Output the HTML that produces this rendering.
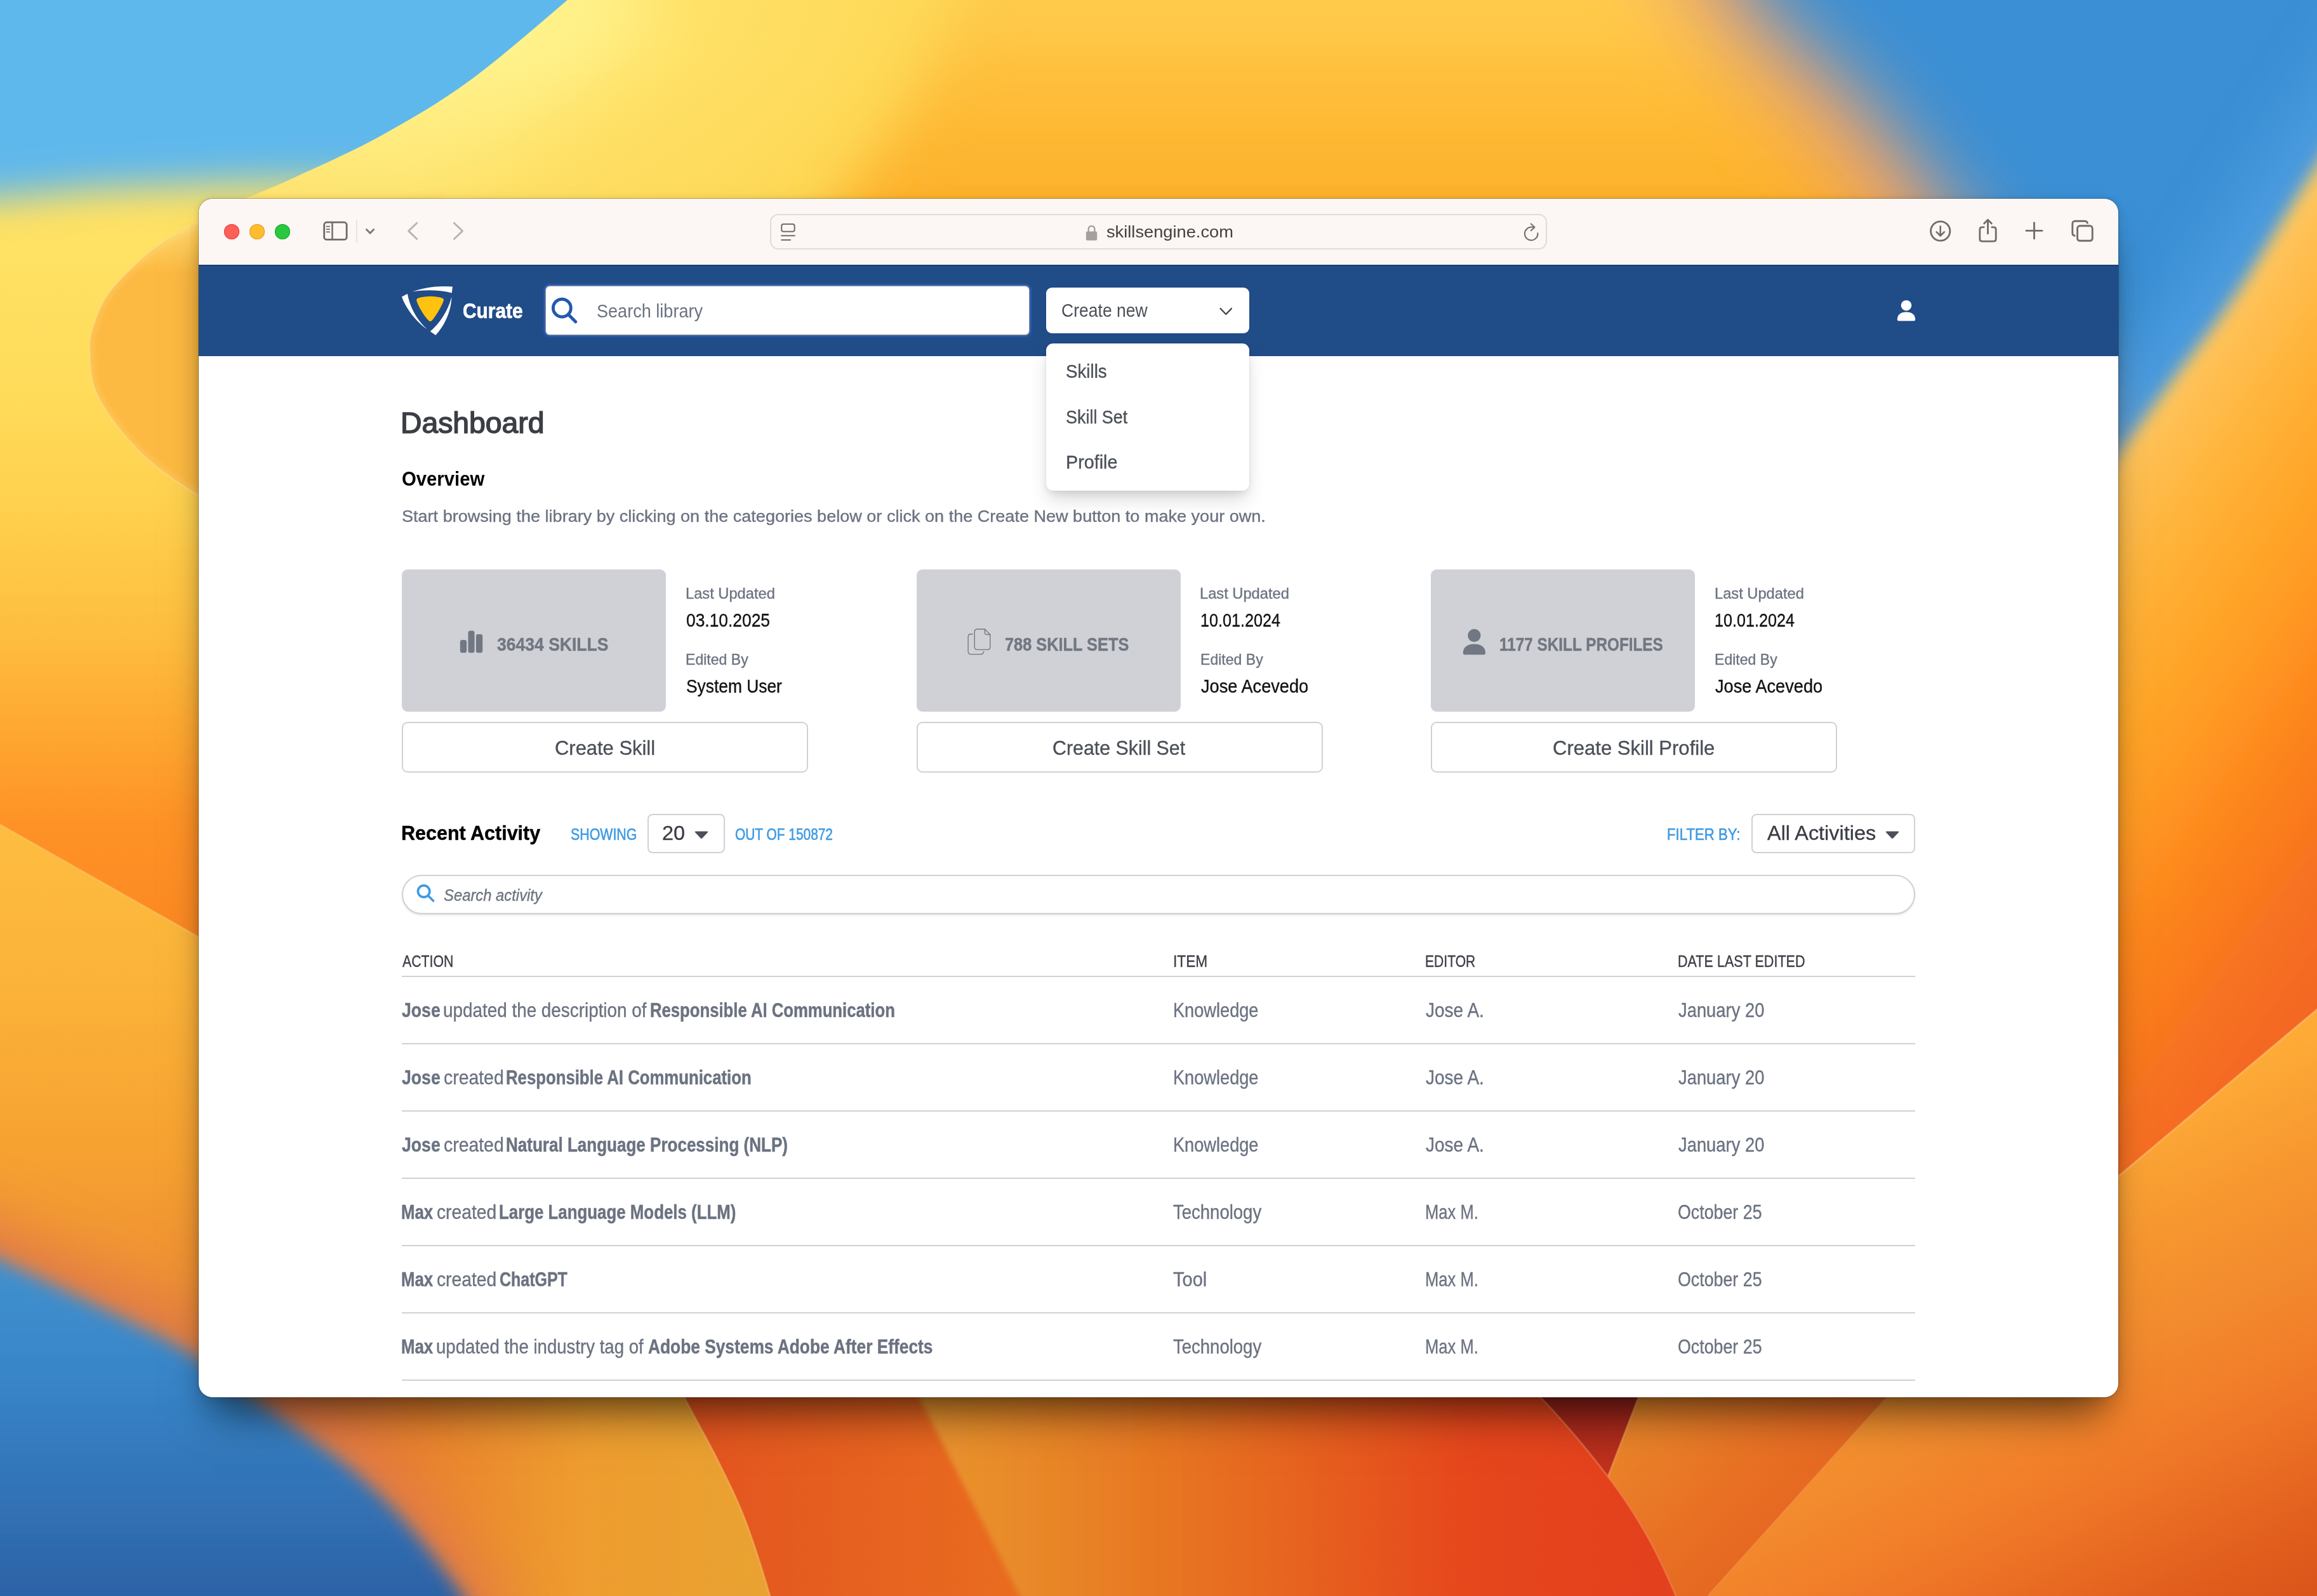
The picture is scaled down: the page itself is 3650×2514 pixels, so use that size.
<!DOCTYPE html><html lang="en"><head><meta charset="utf-8"><title>Curate – Dashboard</title><style>
*{box-sizing:border-box}
html,body{margin:0;padding:0}
body{width:3650px;height:2514px;position:relative;overflow:hidden;background:#f5a030;font-family:"Liberation Sans",sans-serif}
.wall{position:absolute;left:0;top:0;display:block}
.shadow{position:absolute;left:313px;top:313px;width:3024px;height:1888px;border-radius:22px;box-shadow:0 0 0 1px rgba(0,0,0,.24),0 50px 64px -24px rgba(0,0,0,.52),0 18px 36px -10px rgba(0,0,0,.16),0 0 12px rgba(0,0,0,.10)}
.win{position:absolute;left:0;top:0;width:3650px;height:2514px;clip-path:inset(313px 313px 313px 313px round 22px)}
.a{position:absolute}
.t{position:absolute;white-space:pre;line-height:1;transform-origin:0 0}
.tb{left:313px;top:313px;width:3024px;height:104px;background:#fcf7f4}
.nav{left:313px;top:417px;width:3024px;height:144px;background:#204c88;border-top:2px solid #1a3f73}
.page{left:313px;top:561px;width:3024px;height:1640px;background:#fff}
.dot{width:24px;height:24px;border-radius:50%;top:353px}
.url{left:1213px;top:337px;width:1224px;height:56px;border:2px solid #e0dbd8;border-radius:13px;background:#fcf7f4}
.sbox{left:860px;top:451px;width:761px;height:76px;background:#fff;border-radius:6px;box-shadow:0 0 0 1.5px #7d8aa3,0 0 0 4.5px #2557a6}
.cnew{left:1648px;top:453px;width:320px;height:72px;background:#fff;border-radius:9px}
.menu{left:1648px;top:541px;width:320px;height:232px;background:#fff;border-radius:11px;box-shadow:0 16px 30px -4px rgba(0,0,0,.16),0 6px 12px -2px rgba(0,0,0,.08),0 0 0 1px rgba(0,0,0,.03)}
.card{top:897px;width:415.5px;height:223.5px;background:#d0d1d6;border-radius:9px}
.btn{top:1137px;width:640px;height:80px;border:2px solid #cfd1d5;border-radius:9px;background:#fff}
.sel{top:1281.5px;height:62.5px;border:2px solid #cfd1d5;border-radius:8px;background:#fff}
.pill{left:633px;top:1377.5px;width:2384px;height:62px;border:2px solid #cfd1d5;border-radius:31px;background:#fff;box-shadow:0 2px 3px rgba(0,0,0,.10)}
.hl{left:633px;width:2384px;height:2px;background:#cfd1d5}
.med{-webkit-text-stroke:.6px currentColor}
.hd{-webkit-text-stroke:.85px currentColor}
.rg{-webkit-text-stroke:.35px currentColor}
.bd{-webkit-text-stroke:.45px currentColor}
</style></head><body>
<svg class="wall" width="3650" height="2514" viewBox="0 0 3650 2514">
<defs>
  <filter id="b4" x="-10%" y="-10%" width="120%" height="120%"><feGaussianBlur stdDeviation="4"/></filter>
  <filter id="b10" x="-20%" y="-20%" width="140%" height="140%"><feGaussianBlur stdDeviation="14"/></filter>
  <filter id="b14" x="-20%" y="-20%" width="140%" height="140%"><feGaussianBlur stdDeviation="13"/></filter>
  <filter id="b18" x="-20%" y="-20%" width="140%" height="140%"><feGaussianBlur stdDeviation="18"/></filter>
  <filter id="b25" x="-20%" y="-20%" width="140%" height="140%"><feGaussianBlur stdDeviation="25"/></filter>
  <filter id="b30" x="-20%" y="-20%" width="140%" height="140%"><feGaussianBlur stdDeviation="30"/></filter>
  <filter id="b45" x="-30%" y="-30%" width="160%" height="160%"><feGaussianBlur stdDeviation="45"/></filter>
  <filter id="b60" x="-40%" y="-40%" width="180%" height="180%"><feGaussianBlur stdDeviation="62"/></filter>
  <linearGradient id="gLeft" gradientUnits="userSpaceOnUse" x1="0" y1="0" x2="0" y2="2514">
    <stop offset="0" stop-color="#ffe166"/>
    <stop offset=".16" stop-color="#ffe163"/>
    <stop offset=".24" stop-color="#ffdc5b"/>
    <stop offset=".32" stop-color="#ffd04d"/>
    <stop offset=".40" stop-color="#febd3e"/>
    <stop offset=".46" stop-color="#fea730"/>
    <stop offset=".515" stop-color="#fe9226"/>
    <stop offset=".60" stop-color="#fb8722"/>
    <stop offset="1" stop-color="#e8701f"/>
  </linearGradient>
  <linearGradient id="gTop" gradientUnits="userSpaceOnUse" x1="560" y1="60" x2="1500" y2="400">
    <stop offset="0" stop-color="#fff08a"/>
    <stop offset=".25" stop-color="#ffea7a"/>
    <stop offset=".5" stop-color="#ffe167"/>
    <stop offset=".8" stop-color="#fed958"/>
    <stop offset="1" stop-color="#fdd150"/>
  </linearGradient>
  <linearGradient id="gBlob" gradientUnits="userSpaceOnUse" x1="0" y1="0" x2="0" y2="320">
    <stop offset="0" stop-color="#ffcc4e"/>
    <stop offset=".45" stop-color="#febd38"/>
    <stop offset="1" stop-color="#fdb02a"/>
  </linearGradient>
  <linearGradient id="gPetalFade" gradientUnits="userSpaceOnUse" x1="0" y1="300" x2="0" y2="430">
    <stop offset="0" stop-color="#fdba42" stop-opacity="0"/>
    <stop offset="1" stop-color="#fdba42" stop-opacity="1"/>
  </linearGradient>
  <linearGradient id="gRight" gradientUnits="userSpaceOnUse" x1="3490" y1="490" x2="4299" y2="1078">
    <stop offset="0" stop-color="#ffc860"/>
    <stop offset=".06" stop-color="#ffbe50"/>
    <stop offset=".156" stop-color="#ffb339"/>
    <stop offset=".29" stop-color="#ffa427"/>
    <stop offset=".367" stop-color="#ff9a24"/>
    <stop offset=".485" stop-color="#fd861d"/>
    <stop offset=".64" stop-color="#f77220"/>
    <stop offset=".8" stop-color="#f26422"/>
    <stop offset="1" stop-color="#ee5c20"/>
  </linearGradient>
  <linearGradient id="gRightLow" gradientUnits="userSpaceOnUse" x1="3300" y1="1800" x2="3652" y2="2520">
    <stop offset="0" stop-color="#fdaa37"/>
    <stop offset=".21" stop-color="#f7972f"/>
    <stop offset=".40" stop-color="#f28a2e"/>
    <stop offset=".52" stop-color="#f2802a"/>
    <stop offset=".66" stop-color="#ed7326"/>
    <stop offset=".88" stop-color="#e05c1c"/>
    <stop offset="1" stop-color="#d9541a"/>
  </linearGradient>
  <linearGradient id="gBlueBL" gradientUnits="userSpaceOnUse" x1="0" y1="1960" x2="0" y2="2514">
    <stop offset="0" stop-color="#4292d0"/>
    <stop offset=".4" stop-color="#3784c7"/>
    <stop offset="1" stop-color="#2c62a6"/>
  </linearGradient>
  <linearGradient id="gLL" gradientUnits="userSpaceOnUse" x1="0" y1="1300" x2="0" y2="2100">
    <stop offset="0" stop-color="#fdbd40"/>
    <stop offset=".35" stop-color="#fbb138"/>
    <stop offset=".65" stop-color="#f6a131"/>
    <stop offset="1" stop-color="#ec8a34"/>
  </linearGradient>
  <linearGradient id="gBand1" gradientUnits="userSpaceOnUse" x1="420" y1="0" x2="1200" y2="0">
    <stop offset="0" stop-color="#e2723c"/>
    <stop offset=".3" stop-color="#ea822e"/>
    <stop offset=".65" stop-color="#ee9d2f"/>
    <stop offset="1" stop-color="#e9a231"/>
  </linearGradient>
  <linearGradient id="gBand2" gradientUnits="userSpaceOnUse" x1="1100" y1="0" x2="1600" y2="0">
    <stop offset="0" stop-color="#e3551f"/>
    <stop offset="1" stop-color="#e96c20"/>
  </linearGradient>
  <linearGradient id="gBand3" gradientUnits="userSpaceOnUse" x1="1450" y1="0" x2="2600" y2="0">
    <stop offset="0" stop-color="#e9952f"/>
    <stop offset=".2" stop-color="#e88427"/>
    <stop offset=".45" stop-color="#e76a20"/>
    <stop offset=".75" stop-color="#e6471c"/>
    <stop offset="1" stop-color="#e3401d"/>
  </linearGradient>
  <linearGradient id="gDark" gradientUnits="userSpaceOnUse" x1="0" y1="2180" x2="0" y2="2340">
    <stop offset="0" stop-color="#8f201a"/><stop offset="1" stop-color="#cc351e"/>
  </linearGradient>
  <linearGradient id="gPet2" gradientUnits="userSpaceOnUse" x1="2560" y1="2200" x2="2850" y2="2514">
    <stop offset="0" stop-color="#eb8a2b"/>
    <stop offset=".5" stop-color="#e87024"/>
    <stop offset="1" stop-color="#e4601e"/>
  </linearGradient>
  <linearGradient id="gTopShade" gradientUnits="userSpaceOnUse" x1="0" y1="90" x2="0" y2="340">
    <stop offset="0" stop-color="#fdd552" stop-opacity="0"/>
    <stop offset="1" stop-color="#fdd552" stop-opacity=".5"/>
  </linearGradient>
  <clipPath id="cA"><path d="M960.0,-60.0 C949.0,-50.0 930.7,-31.2 894.0,0.0 C857.3,31.2 789.0,91.3 740.0,127.0 C691.0,162.7 646.5,188.3 600.0,214.0 C553.5,239.7 495.5,264.9 461.0,281.0 C426.5,297.1 417.7,299.2 393.0,310.5 C368.3,321.8 335.5,337.4 313.0,349.0 C290.5,360.6 274.7,368.8 258.0,380.0 C241.3,391.2 228.0,402.2 213.0,416.5 C198.0,430.8 179.2,449.4 168.0,466.0 C156.8,482.6 150.5,502.0 146.0,516.0 C141.5,530.0 140.7,534.5 141.0,550.0 C141.3,565.5 141.7,590.0 148.0,609.0 C154.3,628.0 165.7,645.7 179.0,664.0 C192.3,682.3 211.4,703.5 227.6,719.0 C243.8,734.5 261.6,746.7 276.0,757.0 C290.4,767.3 296.7,771.3 314.0,781.0 C331.3,790.7 369.0,809.3 380.0,815.0 L700,815 L700,420 L3300,420 L3300,-60 Z"/></clipPath>
</defs>

<rect x="0" y="0" width="3650" height="2514" fill="url(#gLeft)"/>

<!-- top-left sky -->
<path d="M-300,-300 L1300,-300 L1300,280 L400,287 L150,297 L0,312 L-300,320 Z" fill="#5fb8ec" filter="url(#b30)"/>

<!-- front sheet (top band + left petal) -->
<path d="M960.0,-60.0 C949.0,-50.0 930.7,-31.2 894.0,0.0 C857.3,31.2 789.0,91.3 740.0,127.0 C691.0,162.7 646.5,188.3 600.0,214.0 C553.5,239.7 495.5,264.9 461.0,281.0 C426.5,297.1 417.7,299.2 393.0,310.5 C368.3,321.8 335.5,337.4 313.0,349.0 C290.5,360.6 274.7,368.8 258.0,380.0 C241.3,391.2 228.0,402.2 213.0,416.5 C198.0,430.8 179.2,449.4 168.0,466.0 C156.8,482.6 150.5,502.0 146.0,516.0 C141.5,530.0 140.7,534.5 141.0,550.0 C141.3,565.5 141.7,590.0 148.0,609.0 C154.3,628.0 165.7,645.7 179.0,664.0 C192.3,682.3 211.4,703.5 227.6,719.0 C243.8,734.5 261.6,746.7 276.0,757.0 C290.4,767.3 296.7,771.3 314.0,781.0 C331.3,790.7 369.0,809.3 380.0,815.0 L700,815 L700,420 L3300,420 L3300,-60 Z" fill="url(#gTop)"/>
<g clip-path="url(#cA)">
  <path d="M960.0,-60.0 C949.0,-50.0 930.7,-31.2 894.0,0.0 C857.3,31.2 789.0,91.3 740.0,127.0 C691.0,162.7 636.7,192.5 600.0,214.0 C563.3,235.5 533.3,249.0 520.0,256.0" fill="none" stroke="#fff694" stroke-width="230" opacity=".62" filter="url(#b45)"/>
  <rect x="300" y="90" width="1400" height="340" fill="url(#gTopShade)"/>
  <path d="M1560,-120 C1520,40 1440,180 1321,320 L1240,430 L3320,430 L3320,-120 Z" fill="url(#gBlob)" filter="url(#b45)"/>
  <rect x="60" y="290" width="640" height="540" fill="url(#gPetalFade)"/>
  <path d="M393.0,310.5 C379.7,316.9 335.5,337.4 313.0,349.0 C290.5,360.6 274.7,368.8 258.0,380.0 C241.3,391.2 228.0,402.2 213.0,416.5 C198.0,430.8 179.2,449.4 168.0,466.0 C156.8,482.6 150.5,502.0 146.0,516.0 C141.5,530.0 140.7,534.5 141.0,550.0 C141.3,565.5 141.7,590.0 148.0,609.0 C154.3,628.0 165.7,645.7 179.0,664.0 C192.3,682.3 211.4,703.5 227.6,719.0 C243.8,734.5 261.6,746.7 276.0,757.0 C290.4,767.3 296.7,771.3 314.0,781.0 C331.3,790.7 369.0,809.3 380.0,815.0" fill="none" stroke="#ffe9a8" stroke-width="14" opacity=".2" filter="url(#b4)"/>
</g>
<path d="M393.0,310.5 C379.7,316.9 335.5,337.4 313.0,349.0 C290.5,360.6 274.7,368.8 258.0,380.0 C241.3,391.2 228.0,402.2 213.0,416.5 C198.0,430.8 179.2,449.4 168.0,466.0 C156.8,482.6 150.5,502.0 146.0,516.0 C141.5,530.0 140.7,534.5 141.0,550.0 C141.3,565.5 141.7,590.0 148.0,609.0 C154.3,628.0 165.7,645.7 179.0,664.0 C192.3,682.3 211.4,703.5 227.6,719.0 C243.8,734.5 261.6,746.7 276.0,757.0 C290.4,767.3 296.7,771.3 314.0,781.0 C331.3,790.7 369.0,809.3 380.0,815.0" fill="none" stroke="#ffe29a" stroke-width="2.5" opacity=".4"/>

<!-- bottom strip -->
<rect x="330" y="2150" width="3400" height="400" fill="#e8701f"/>
<path d="M1030.0,2100.0 C1038.0,2116.8 1061.5,2168.2 1078.0,2201.0 C1094.5,2233.8 1113.2,2265.2 1129.0,2297.0 C1144.8,2328.8 1159.0,2355.8 1173.0,2392.0 C1187.0,2428.2 1201.8,2476.0 1213.0,2514.0 C1224.2,2552.0 1235.5,2602.3 1240.0,2620.0 L330,2620 L330,2100 Z" fill="url(#gBand1)"/>
<path d="M1030.0,2100.0 C1038.0,2116.8 1061.5,2168.2 1078.0,2201.0 C1094.5,2233.8 1113.2,2265.2 1129.0,2297.0 C1144.8,2328.8 1159.0,2355.8 1173.0,2392.0 C1187.0,2428.2 1201.8,2476.0 1213.0,2514.0 C1224.2,2552.0 1235.5,2602.3 1240.0,2620.0 L1700,2620 L1397,2100 Z" fill="url(#gBand2)"/>
<path d="M1030.0,2100.0 C1038.0,2116.8 1061.5,2168.2 1078.0,2201.0 C1094.5,2233.8 1113.2,2265.2 1129.0,2297.0 C1144.8,2328.8 1159.0,2355.8 1173.0,2392.0 C1187.0,2428.2 1201.8,2476.0 1213.0,2514.0 C1224.2,2552.0 1235.5,2602.3 1240.0,2620.0" fill="none" stroke="#f5c06a" stroke-width="3" opacity=".5"/>
<path d="M1397,2100 L1660,2620 L2800,2620 L2800,2100 Z" fill="url(#gBand3)" filter="url(#b4)"/>
<path d="M2300,2100 L2650,2100 L2650,2400 L2500,2400 Z" fill="url(#gDark)"/>
<path d="M2620,2100 L2533,2326 L2400,2700 L2600,2700 L2691,2514 L2973,2201 L3080,2100 Z" fill="url(#gPet2)"/>
<path d="M2620,2100 L2533,2326" fill="none" stroke="#f4a95a" stroke-width="3" opacity=".5"/>
<path d="M2315.0,2100.0 C2333.7,2116.8 2390.7,2163.3 2427.0,2201.0 C2463.3,2238.7 2505.0,2289.5 2533.0,2326.0 C2561.0,2362.5 2577.2,2388.7 2595.0,2420.0 C2612.8,2451.3 2625.8,2480.7 2640.0,2514.0 C2654.2,2547.3 2673.3,2602.3 2680.0,2620.0 L1900,2620 L1900,2100 Z" fill="url(#gBand3)"/>
<path d="M2315.0,2100.0 C2333.7,2116.8 2390.7,2163.3 2427.0,2201.0 C2463.3,2238.7 2505.0,2289.5 2533.0,2326.0 C2561.0,2362.5 2577.2,2388.7 2595.0,2420.0 C2612.8,2451.3 2625.8,2480.7 2640.0,2514.0 C2654.2,2547.3 2673.3,2602.3 2680.0,2620.0" fill="none" stroke="#f08a5a" stroke-width="3" opacity=".5"/>
<path d="M2973,2201 L2691,2514" fill="none" stroke="#f8b868" stroke-width="3" opacity=".45"/>

<!-- top-right sky -->
<path d="M2500,-300 L2640,0 L2820,185 L2950,350 L3130,610 L3290,775 L3290,1100 L3900,1100 L3900,-300 Z" fill="#f0a070" filter="url(#b60)" opacity=".9"/>
<path d="M2640,-300 L2760,0 L2934,157 L3060,315 L3236,560 L3337,760 L3337,1100 L3900,1100 L3900,-300 Z" fill="#3b8fd4" filter="url(#b60)"/>
<path d="M3800.0,40.0 C3775.0,76.7 3696.7,189.0 3650.0,260.0 C3603.3,331.0 3558.3,409.2 3520.0,466.0 C3481.7,522.8 3450.0,560.2 3420.0,601.0 C3390.0,641.8 3368.3,672.0 3340.0,711.0 C3311.7,750.0 3276.7,796.8 3250.0,835.0 C3223.3,873.2 3191.7,922.5 3180.0,940.0" fill="none" stroke="#58a6e8" stroke-width="150" opacity=".55" filter="url(#b45)"/>
<!-- right strip -->
<path d="M3800.0,40.0 C3775.0,76.7 3696.7,189.0 3650.0,260.0 C3603.3,331.0 3558.3,409.2 3520.0,466.0 C3481.7,522.8 3450.0,560.2 3420.0,601.0 C3390.0,641.8 3368.3,672.0 3340.0,711.0 C3311.7,750.0 3276.7,796.8 3250.0,835.0 C3223.3,873.2 3191.7,922.5 3180.0,940.0 L3180,2100 L3900,2100 L3900,40 Z" fill="url(#gRight)" filter="url(#b14)"/>
<path d="M3750,1506 L3337,1853 L2973,2201 L2691,2514 L2600,2700 L3750,2700 Z" fill="url(#gRightLow)"/>
<path d="M3750,1506 L3337,1853" fill="none" stroke="#ffd08a" stroke-width="3" opacity=".45"/>
<!-- lower-left sheet -->
<path d="M-10,1293 L313,1476 L420,1540 L420,2600 L-10,2600 Z" fill="url(#gLL)"/>
<path d="M-10,1293 L313,1476" fill="none" stroke="#ffd98a" stroke-width="3" opacity=".3"/>

<!-- bottom-left sky with warm halo -->
<path d="M-180.0,1850.0 C-146.7,1865.7 -50.7,1910.5 20.0,1944.0 C90.7,1977.5 191.7,2024.8 244.0,2051.0 C296.3,2077.2 296.5,2076.7 334.0,2101.0 C371.5,2125.3 427.8,2167.0 469.0,2197.0 C510.2,2227.0 548.3,2253.0 581.0,2281.0 C613.7,2309.0 637.0,2332.8 665.0,2365.0 C693.0,2397.2 724.8,2438.2 749.0,2474.0 C773.2,2509.8 799.8,2562.3 810.0,2580.0 L-200,2700 Z" fill="#e07a48" filter="url(#b45)"/>
<path d="M-200.0,1890.0 C-166.7,1905.7 -70.7,1950.5 0.0,1984.0 C70.7,2017.5 171.7,2064.8 224.0,2091.0 C276.3,2117.2 276.5,2116.7 314.0,2141.0 C351.5,2165.3 407.8,2207.0 449.0,2237.0 C490.2,2267.0 528.3,2293.0 561.0,2321.0 C593.7,2349.0 617.0,2372.8 645.0,2405.0 C673.0,2437.2 704.8,2478.2 729.0,2514.0 C753.2,2549.8 779.8,2602.3 790.0,2620.0 L-200,2700 Z" fill="url(#gBlueBL)" filter="url(#b10)"/>
</svg>
<div class="shadow"></div>
<div class="win">
<div class="a tb"></div>
<div class="a dot" style="left:353px;background:#fe5f57;box-shadow:inset 0 0 0 1px #e1443c"></div>
<div class="a dot" style="left:393px;background:#febc2e;box-shadow:inset 0 0 0 1px #dfa023"></div>
<div class="a dot" style="left:433px;background:#28c840;box-shadow:inset 0 0 0 1px #1eab2e"></div>
<svg class="a" style="left:490px;top:330px" width="260" height="70" viewBox="0 0 2317 624" fill="none" stroke-linecap="round" stroke-linejoin="round">
<rect x="184" y="180" width="316" height="243" rx="36" stroke="#6f6a68" stroke-width="25"/>
<path d="M298 182V421" stroke="#6f6a68" stroke-width="22"/>
<path d="M218 238H260M218 277H260M218 316H260" stroke="#6f6a68" stroke-width="15"/>
<path d="M640 152V466" stroke="#e4dfdc" stroke-width="14" stroke-linecap="butt"/>
<path d="M779 281L829 333L879 281" stroke="#7d7876" stroke-width="26"/>
<path d="M1486 190L1369 302L1486 414" stroke="#bab4b1" stroke-width="26"/>
<path d="M2008 190L2126 302L2008 414" stroke="#bab4b1" stroke-width="26"/>
</svg>
<div class="a url"></div>
<svg class="a" style="left:1200px;top:330px" width="100" height="70" viewBox="0 0 2280 1596" fill="none" stroke="#726d6a" stroke-width="46" stroke-linecap="round">
<rect x="712" y="522" width="466" height="270" rx="70"/>
<path d="M708 942H1182M708 1092H1030"/></svg>
<svg class="a" style="left:1700px;top:335px" width="60" height="60" viewBox="0 0 535 535">
<rect x="97" y="262" width="155" height="128" rx="20" fill="#a3a09e"/>
<path d="M131 270V228A44 46 0 0 1 218 228V270" fill="none" stroke="#a3a09e" stroke-width="21"/></svg>
<span class="t" style="left:1742.8px;top:352.1px;font-size:26.5px;color:#45403e;transform:scaleX(1.0281)">skillsengine.com</span>
<svg class="a" style="left:2360px;top:330px" width="100" height="70" viewBox="0 0 2280 1596" fill="none" stroke="#726d6a" stroke-width="46" stroke-linecap="round" stroke-linejoin="round">
<path d="M1424 850A235 235 0 1 1 1190 635H1300"/>
<path d="M1180 515L1312 636L1180 760"/></svg>
<svg class="a" style="left:3020px;top:330px" width="300" height="70" viewBox="0 0 2317 541" fill="none" stroke="#726d6a" stroke-width="22" stroke-linecap="round" stroke-linejoin="round">
<circle cx="283" cy="263" r="117"/>
<path d="M283 206V318M236 274L283 321L330 274" stroke-width="20"/>
<path d="M812 216H790Q763 216 763 243V360Q763 387 790 387H932Q959 387 959 360V243Q959 216 932 216H910"/>
<path d="M861 128V293M816 170L861 125L906 170"/>
<path d="M1328 258H1522M1425 161V355"/>
<rect x="1891" y="141" width="183" height="178" rx="30"/>
<rect x="1951" y="199" width="183" height="182" rx="30" fill="#fcf7f4" stroke="#fcf7f4" stroke-width="50"/>
<rect x="1951" y="199" width="183" height="182" rx="30" fill="#fcf7f4"/>
</svg>
<div class="a nav"></div>
<svg class="a" style="left:620px;top:435px" width="260" height="110" viewBox="0 0 2317 980">
<path d="M262 217C420 160 640 128 828 147L818 237C650 190 430 190 262 217Z" fill="#fff"/>
<path d="M115 290L195 248C230 440 330 620 470 745C320 640 180 470 115 290Z" fill="#fff"/>
<path d="M590 828L515 775C660 650 770 470 815 290C810 490 720 690 590 828Z" fill="#fff"/>
<path d="M350 305C450 275 590 275 680 305Q715 318 700 352C660 450 600 550 540 622Q515 648 490 622C420 545 360 445 325 352Q312 318 350 305Z" fill="#fec20f"/>
</svg>
<span class="t" style="-webkit-text-stroke:.7px #fff;left:729.1px;top:472.7px;font-size:33.72px;color:#ffffff;transform:scaleX(0.8857);font-weight:700">Curate</span>
<div class="a sbox"></div>
<svg class="a" style="left:840px;top:435px" width="90" height="110" viewBox="0 0 802 980" fill="none" stroke="#2458ae" stroke-width="44" stroke-linecap="round">
<circle cx="404" cy="447" r="124"/><path d="M496 541L594 640"/></svg>
<span class="t" style="left:939.7px;top:475.0px;font-size:29.36px;color:#6b7280;transform:scaleX(0.9222)">Search library</span>
<div class="a cnew"></div>
<span class="t" style="left:1671.6px;top:474.2px;font-size:29.8px;color:#4b4f58;transform:scaleX(0.8907)">Create new</span>
<svg class="a" style="left:1915px;top:478px" width="32" height="24" viewBox="0 0 32 24" fill="none" stroke="#3b3e45" stroke-width="2.2" stroke-linecap="round" stroke-linejoin="round"><path d="M7.5 8L16.3 17L25 8"/></svg>
<svg class="a" style="left:2980px;top:465px" width="46" height="48" viewBox="0 0 46 48" fill="#fff">
<circle cx="23" cy="16.2" r="8.3"/><path d="M8.8 38.5C8.8 31 14 26.6 23 26.6S37.2 31 37.2 38.5Q37.2 40.6 35 40.6H11Q8.8 40.6 8.8 38.5Z"/></svg>
<div class="a page"></div>
<span class="t" style="-webkit-text-stroke:1.5px #3b3e45;left:631.3px;top:643.5px;font-size:45.49px;color:#3b3e45;transform:scaleX(1.0181)">Dashboard</span>
<span class="t" style="left:632.9px;top:737.7px;font-size:31.98px;color:#000000;transform:scaleX(0.9163);font-weight:700">Overview</span>
<span class="t rg" style="left:633.0px;top:799.7px;font-size:26.31px;color:#6b7280;transform:scaleX(1.0288)">Start browsing the library by clicking on the categories below or click on the Create New button to make your own.</span>
<div class="a card" style="left:633.2px"></div>
<div class="a btn" style="left:633.2px"></div>
<div class="a card" style="left:1444.0px"></div>
<div class="a btn" style="left:1444.0px"></div>
<div class="a card" style="left:2254.2px"></div>
<div class="a btn" style="left:2254.2px"></div>
<svg class="a" style="left:720px;top:990px" width="46" height="42" viewBox="0 0 46 42" fill="#717783">
<rect x="4.8" y="18" width="10.3" height="20.3" rx="3.4"/><rect x="17.5" y="3.5" width="10" height="34.8" rx="3.4"/><rect x="29.9" y="9" width="10.3" height="29.3" rx="3.4"/></svg>
<svg class="a" style="left:1500px;top:970px" width="120" height="80" viewBox="0 0 2317 1545" fill="none" stroke="#717783" stroke-width="26" stroke-linecap="round" stroke-linejoin="round">
<path d="M990 405H770Q680 405 680 495V940Q680 1030 770 1030H1065Q1155 1030 1155 940V570L990 405V500Q990 570 1060 570H1155"/>
<path d="M620 555H575Q485 555 485 645V1080Q485 1170 575 1170H870Q950 1170 960 1085"/></svg>
<svg class="a" style="left:2298px;top:985px" width="50" height="52" viewBox="0 0 50 52" fill="#717783">
<circle cx="24.4" cy="16" r="10.2"/><path d="M6.8 43.5C6.8 34.5 13.5 29.6 24.4 29.6S42 34.5 42 43.5Q42 46.3 39.2 46.3H9.6Q6.8 46.3 6.8 43.5Z"/></svg>
<span class="t bd" style="left:782.8px;top:1000.5px;font-size:28.63px;color:#717783;transform:scaleX(0.9267);font-weight:700">36434 SKILLS</span>
<span class="t rg" style="left:1079.9px;top:922.6px;font-size:24.13px;color:#6b7280;transform:scaleX(0.9814)">Last Updated</span>
<span class="t rg" style="left:1081.0px;top:962.8px;font-size:28.63px;color:#111111;transform:scaleX(0.9213)">03.10.2025</span>
<span class="t rg" style="left:1080.0px;top:1026.9px;font-size:24.13px;color:#6b7280;transform:scaleX(0.9564)">Edited By</span>
<span class="t rg" style="left:1081.0px;top:1066.8px;font-size:28.63px;color:#111111;transform:scaleX(0.9209)">System User</span>
<span class="t rg" style="left:873.6px;top:1161.5px;font-size:32.12px;color:#4b4f58;transform:scaleX(0.9631)">Create Skill</span>
<span class="t bd" style="left:1582.8px;top:1000.5px;font-size:28.63px;color:#717783;transform:scaleX(0.8854);font-weight:700">788 SKILL SETS</span>
<span class="t rg" style="left:1890.4px;top:922.6px;font-size:24.13px;color:#6b7280;transform:scaleX(0.9814)">Last Updated</span>
<span class="t rg" style="left:1890.6px;top:962.8px;font-size:28.63px;color:#111111;transform:scaleX(0.8787)">10.01.2024</span>
<span class="t rg" style="left:1890.5px;top:1026.9px;font-size:24.13px;color:#6b7280;transform:scaleX(0.9564)">Edited By</span>
<span class="t rg" style="left:1891.5px;top:1066.8px;font-size:28.63px;color:#111111;transform:scaleX(0.9494)">Jose Acevedo</span>
<span class="t rg" style="left:1657.9px;top:1161.5px;font-size:32.12px;color:#4b4f58;transform:scaleX(0.9452)">Create Skill Set</span>
<span class="t bd" style="left:2362.3px;top:1000.5px;font-size:28.63px;color:#717783;transform:scaleX(0.8500);font-weight:700">1177 SKILL PROFILES</span>
<span class="t rg" style="left:2701.0px;top:922.6px;font-size:24.13px;color:#6b7280;transform:scaleX(0.9814)">Last Updated</span>
<span class="t rg" style="left:2701.2px;top:962.8px;font-size:28.63px;color:#111111;transform:scaleX(0.8787)">10.01.2024</span>
<span class="t rg" style="left:2701.1px;top:1026.9px;font-size:24.13px;color:#6b7280;transform:scaleX(0.9564)">Edited By</span>
<span class="t rg" style="left:2702.1px;top:1066.8px;font-size:28.63px;color:#111111;transform:scaleX(0.9489)">Jose Acevedo</span>
<span class="t rg" style="left:2446.4px;top:1161.5px;font-size:32.12px;color:#4b4f58;transform:scaleX(0.9667)">Create Skill Profile</span>
<span class="t bd" style="left:631.6px;top:1297.4px;font-size:31.69px;color:#000000;transform:scaleX(0.9624);font-weight:700">Recent Activity</span>
<span class="t med" style="left:898.9px;top:1301.9px;font-size:25.15px;color:#3f9be3;transform:scaleX(0.8492)">SHOWING</span>
<div class="a sel" style="left:1019.5px;width:122px"></div>
<span class="t rg" style="left:1043.4px;top:1297.4px;font-size:31.69px;color:#3b3e45;transform:scaleX(1.0250)">20</span>
<svg class="a" style="left:1093px;top:1307px" width="24" height="16" viewBox="0 0 24 16" fill="#4b4f58"><path d="M3.2 2.4H20.8Q23.4 2.4 21.6 4.5L13.4 13.2Q12 14.6 10.6 13.2L2.4 4.5Q.6 2.4 3.2 2.4Z"/></svg>
<span class="t med" style="left:1157.5px;top:1301.9px;font-size:25.15px;color:#3f9be3;transform:scaleX(0.8306)">OUT OF 150872</span>
<span class="t med" style="left:2626.1px;top:1301.9px;font-size:25.15px;color:#3f9be3;transform:scaleX(0.8827)">FILTER BY:</span>
<div class="a sel" style="left:2759px;width:257.5px"></div>
<span class="t rg" style="left:2784.3px;top:1297.4px;font-size:31.69px;color:#3b3e45;transform:scaleX(1.0235)">All Activities</span>
<svg class="a" style="left:2969px;top:1307px" width="24" height="16" viewBox="0 0 24 16" fill="#4b4f58"><path d="M3.2 2.4H20.8Q23.4 2.4 21.6 4.5L13.4 13.2Q12 14.6 10.6 13.2L2.4 4.5Q.6 2.4 3.2 2.4Z"/></svg>
<div class="a pill"></div>
<svg class="a" style="left:650px;top:1386px" width="42" height="42" viewBox="0 0 42 42" fill="none" stroke="#3f9be3" stroke-width="3.7" stroke-linecap="round"><circle cx="17.6" cy="18" r="9.2"/><path d="M24.6 25L32.6 33"/></svg>
<span class="t rg" style="left:699.1px;top:1397.1px;font-size:26.16px;color:#6b7280;transform:scaleX(0.9106);font-style:italic">Search activity</span>
<span class="t rg" style="left:633.5px;top:1502.2px;font-size:25.15px;color:#3b3e45;transform:scaleX(0.8462)">ACTION</span>
<span class="t rg" style="left:1847.6px;top:1502.2px;font-size:25.15px;color:#3b3e45;transform:scaleX(0.9018)">ITEM</span>
<span class="t rg" style="left:2244.9px;top:1502.2px;font-size:25.15px;color:#3b3e45;transform:scaleX(0.8385)">EDITOR</span>
<span class="t rg" style="left:2642.7px;top:1502.2px;font-size:25.15px;color:#3b3e45;transform:scaleX(0.8580)">DATE LAST EDITED</span>
<div class="a hl" style="top:1536.5px"></div>
<div class="a hl" style="top:1642.5px"></div>
<div class="a hl" style="top:1748.5px"></div>
<div class="a hl" style="top:1854.5px"></div>
<div class="a hl" style="top:1960.5px"></div>
<div class="a hl" style="top:2066.5px"></div>
<div class="a hl" style="top:2172.5px"></div>
<span class="t bd" style="left:632.9px;top:1575.8px;font-size:30.52px;color:#6b7280;transform:scaleX(0.8735);font-weight:700">Jose</span>
<span class="t rg" style="left:698.4px;top:1575.8px;font-size:30.52px;color:#6b7280;transform:scaleX(0.9126)">updated the description of</span>
<span class="t bd" style="left:1024.3px;top:1575.8px;font-size:30.52px;color:#6b7280;transform:scaleX(0.8418);font-weight:700">Responsible AI Communication</span>
<span class="t rg" style="left:1847.6px;top:1575.8px;font-size:30.52px;color:#6b7280;transform:scaleX(0.8905)">Knowledge</span>
<span class="t rg" style="left:2245.7px;top:1575.8px;font-size:30.52px;color:#6b7280;transform:scaleX(0.9177)">Jose A.</span>
<span class="t rg" style="left:2643.5px;top:1575.8px;font-size:30.52px;color:#6b7280;transform:scaleX(0.8966)">January 20</span>
<span class="t bd" style="left:632.9px;top:1681.8px;font-size:30.52px;color:#6b7280;transform:scaleX(0.8735);font-weight:700">Jose</span>
<span class="t rg" style="left:699.3px;top:1681.8px;font-size:30.52px;color:#6b7280;transform:scaleX(0.9303)">created</span>
<span class="t bd" style="left:797.2px;top:1681.8px;font-size:30.52px;color:#6b7280;transform:scaleX(0.8435);font-weight:700">Responsible AI Communication</span>
<span class="t rg" style="left:1847.6px;top:1681.8px;font-size:30.52px;color:#6b7280;transform:scaleX(0.8905)">Knowledge</span>
<span class="t rg" style="left:2245.7px;top:1681.8px;font-size:30.52px;color:#6b7280;transform:scaleX(0.9177)">Jose A.</span>
<span class="t rg" style="left:2643.5px;top:1681.8px;font-size:30.52px;color:#6b7280;transform:scaleX(0.8966)">January 20</span>
<span class="t bd" style="left:632.9px;top:1787.8px;font-size:30.52px;color:#6b7280;transform:scaleX(0.8735);font-weight:700">Jose</span>
<span class="t rg" style="left:699.3px;top:1787.8px;font-size:30.52px;color:#6b7280;transform:scaleX(0.9303)">created</span>
<span class="t bd" style="left:797.2px;top:1787.8px;font-size:30.52px;color:#6b7280;transform:scaleX(0.8528);font-weight:700">Natural Language Processing (NLP)</span>
<span class="t rg" style="left:1847.6px;top:1787.8px;font-size:30.52px;color:#6b7280;transform:scaleX(0.8905)">Knowledge</span>
<span class="t rg" style="left:2245.7px;top:1787.8px;font-size:30.52px;color:#6b7280;transform:scaleX(0.9177)">Jose A.</span>
<span class="t rg" style="left:2643.5px;top:1787.8px;font-size:30.52px;color:#6b7280;transform:scaleX(0.8966)">January 20</span>
<span class="t bd" style="left:632.1px;top:1893.8px;font-size:30.52px;color:#6b7280;transform:scaleX(0.8456);font-weight:700">Max</span>
<span class="t rg" style="left:688.1px;top:1893.8px;font-size:30.52px;color:#6b7280;transform:scaleX(0.9253)">created</span>
<span class="t bd" style="left:785.9px;top:1893.8px;font-size:30.52px;color:#6b7280;transform:scaleX(0.8470);font-weight:700">Large Language Models (LLM)</span>
<span class="t rg" style="left:1847.7px;top:1893.8px;font-size:30.52px;color:#6b7280;transform:scaleX(0.9013)">Technology</span>
<span class="t rg" style="left:2244.7px;top:1893.8px;font-size:30.52px;color:#6b7280;transform:scaleX(0.8379)">Max M.</span>
<span class="t rg" style="left:2643.3px;top:1893.8px;font-size:30.52px;color:#6b7280;transform:scaleX(0.8779)">October 25</span>
<span class="t bd" style="left:632.1px;top:1999.8px;font-size:30.52px;color:#6b7280;transform:scaleX(0.8456);font-weight:700">Max</span>
<span class="t rg" style="left:688.1px;top:1999.8px;font-size:30.52px;color:#6b7280;transform:scaleX(0.9253)">created</span>
<span class="t bd" style="left:786.8px;top:1999.8px;font-size:30.52px;color:#6b7280;transform:scaleX(0.8185);font-weight:700">ChatGPT</span>
<span class="t rg" style="left:1847.6px;top:1999.8px;font-size:30.52px;color:#6b7280;transform:scaleX(0.9509)">Tool</span>
<span class="t rg" style="left:2244.7px;top:1999.8px;font-size:30.52px;color:#6b7280;transform:scaleX(0.8379)">Max M.</span>
<span class="t rg" style="left:2643.3px;top:1999.8px;font-size:30.52px;color:#6b7280;transform:scaleX(0.8779)">October 25</span>
<span class="t bd" style="left:632.1px;top:2105.8px;font-size:30.52px;color:#6b7280;transform:scaleX(0.8456);font-weight:700">Max</span>
<span class="t rg" style="left:687.2px;top:2105.8px;font-size:30.52px;color:#6b7280;transform:scaleX(0.9042)">updated the industry tag of</span>
<span class="t bd" style="left:1020.6px;top:2105.8px;font-size:30.52px;color:#6b7280;transform:scaleX(0.8624);font-weight:700">Adobe Systems Adobe After Effects</span>
<span class="t rg" style="left:1847.7px;top:2105.8px;font-size:30.52px;color:#6b7280;transform:scaleX(0.9013)">Technology</span>
<span class="t rg" style="left:2244.7px;top:2105.8px;font-size:30.52px;color:#6b7280;transform:scaleX(0.8379)">Max M.</span>
<span class="t rg" style="left:2643.3px;top:2105.8px;font-size:30.52px;color:#6b7280;transform:scaleX(0.8779)">October 25</span>
<div class="a menu"></div>
<span class="t rg" style="left:1679.0px;top:570.8px;font-size:28.78px;color:#4b4f58;transform:scaleX(0.9631)">Skills</span>
<span class="t rg" style="left:1679.1px;top:642.6px;font-size:28.78px;color:#4b4f58;transform:scaleX(0.9359)">Skill Set</span>
<span class="t rg" style="left:1678.7px;top:714.4px;font-size:28.78px;color:#4b4f58;transform:scaleX(0.9987)">Profile</span>
</div></body></html>
